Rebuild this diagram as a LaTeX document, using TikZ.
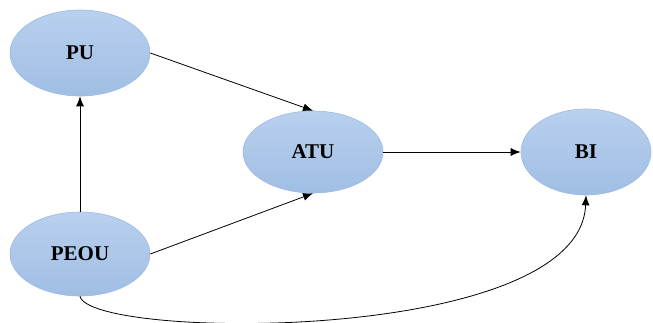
\documentclass[tikz,border=0pt]{standalone}
\usepackage{fontspec}
\setmainfont{Liberation Serif}
\usetikzlibrary{shapes.geometric,arrows.meta}
\definecolor{elltop}{HTML}{B9D0EE}
\definecolor{ellbot}{HTML}{A0BEE4}
\definecolor{ellline}{HTML}{9DBAE2}
\tikzset{
  construct/.style={ellipse, draw=ellline, line width=0.6pt,
    top color=elltop, bottom color=ellbot, inner sep=0pt,
    font=\fontsize{21}{24}\selectfont\bfseries},
  link/.style={draw=black, line width=0.8pt, -{Latex[length=10pt,width=8pt]}}
}
\begin{document}
\begin{tikzpicture}[x=1pt,y=-1pt]
  \useasboundingbox (0,0) rectangle (653,322);
  \node[construct, minimum width=140pt, minimum height=86pt] (PU)   at (80,53)   {PU};
  \node[construct, minimum width=140pt, minimum height=84pt] (PEOU) at (80,254)  {PEOU};
  \node[construct, minimum width=140pt, minimum height=82pt] (ATU)  at (313,152) {ATU};
  \node[construct, minimum width=130pt, minimum height=86pt] (BI)   at (586,152) {BI};
  \draw[link] (PU.east) -- (ATU.north);
  \draw[link] (PEOU.east) -- (ATU.south);
  \draw[link] (ATU.east) -- (BI.west);
  \draw[link] (PEOU.north) -- (PU.south);
  \draw[link] (PEOU.south) .. controls (90,340) and (580,345) .. (BI.south);
\end{tikzpicture}
\end{document}
